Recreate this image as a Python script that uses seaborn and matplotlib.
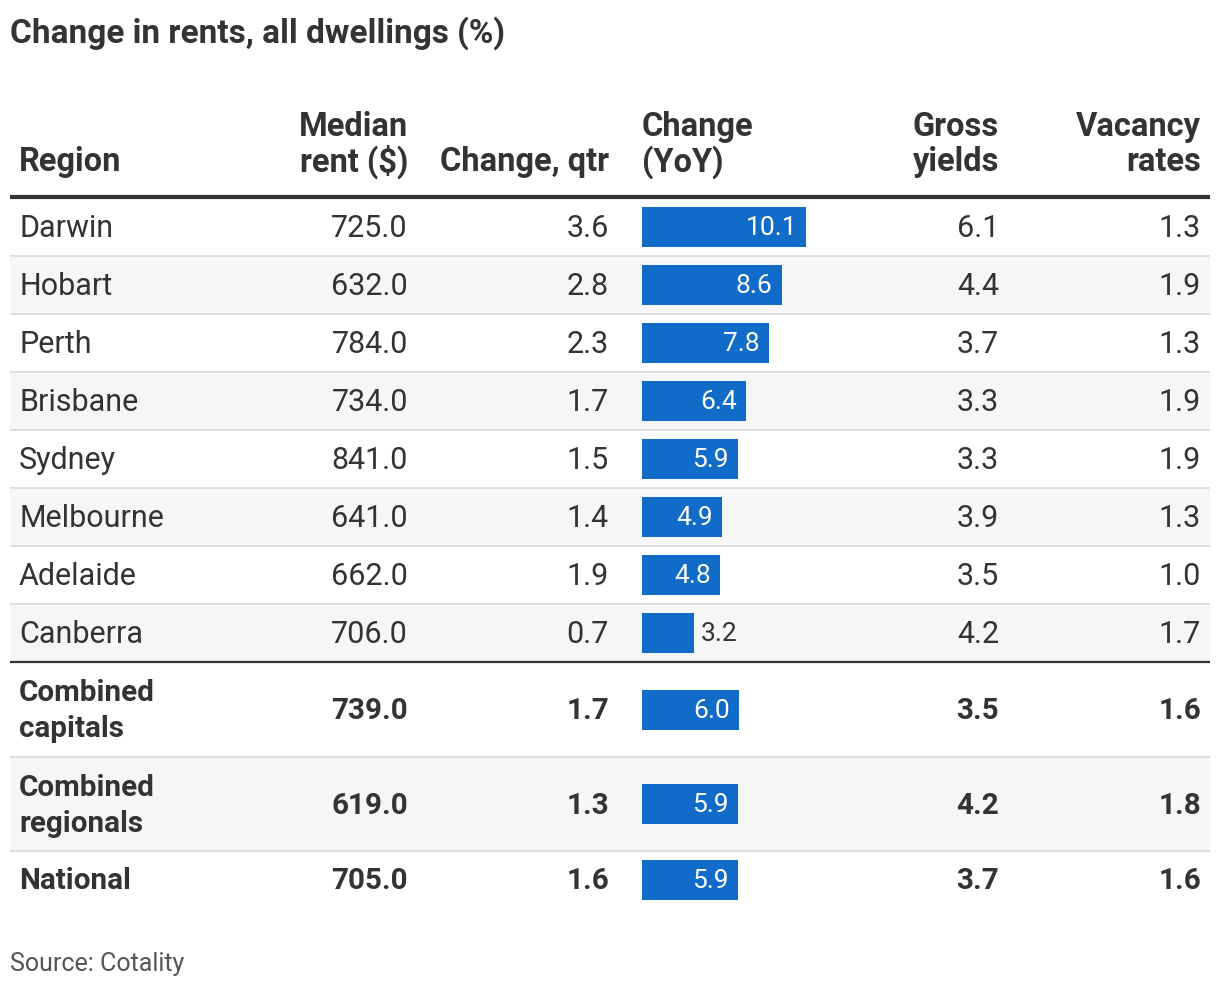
import matplotlib
matplotlib.use("Agg")
import matplotlib.pyplot as plt
import pandas as pd
import seaborn as sns

regions = ["Darwin", "Hobart", "Perth", "Brisbane", "Sydney", "Melbourne",
           "Adelaide", "Canberra", "Combined\ncapitals", "Combined\nregionals", "National"]
median_rent = [725.0, 632.0, 784.0, 734.0, 841.0, 641.0, 662.0, 706.0, 739.0, 619.0, 705.0]
change_qtr = [3.6, 2.8, 2.3, 1.7, 1.5, 1.4, 1.9, 0.7, 1.7, 1.3, 1.6]
change_yoy = [10.1, 8.6, 7.8, 6.4, 5.9, 4.9, 4.8, 3.2, 6.0, 5.9, 5.9]
gross_yields = [6.1, 4.4, 3.7, 3.3, 3.3, 3.9, 3.5, 4.2, 3.5, 4.2, 3.7]
vacancy = [1.3, 1.9, 1.3, 1.9, 1.9, 1.3, 1.0, 1.7, 1.6, 1.8, 1.6]
n_cities = 8

TEXT = "#333333"
BLUE = "#106bc9"
STRIPE = "#f6f6f6"
RULE = "#dcdcdc"

sns.set_theme(style="white")
plt.rcParams["font.family"] = ["Roboto", "DejaVu Sans"]

W, H = 1220, 990
fig = plt.figure(figsize=(W / 100, H / 100), dpi=100)
ax = fig.add_axes([0, 0, 1, 1])
ax.set_xlim(0, W)
ax.set_ylim(H, 0)
ax.axis("off")

body = 22
body_bold = 21.3
head = 23.5
# row layout (pixels)
heights = [58] * n_cities + [95, 94, 57]
tops = [198]
for h in heights[:-1]:
    tops.append(tops[-1] + h)
centers = [t + h / 2 for t, h in zip(tops, heights)]

# title / source
ax.text(10, 33, "Change in rents, all dwellings (%)", fontsize=24, fontweight="bold",
        color=TEXT, ha="left", va="center")
ax.text(10, 964, "Source: Cotality", fontsize=18, color="#555555", ha="left", va="center")

# header
hdr = dict(fontsize=head, fontweight="bold", color=TEXT, va="center")
ax.text(19, 162, "Region", ha="left", **hdr)
for x, l1, l2, ha in [(408, "Median", "rent ($)", "right"),
                      (642, "Change", "(YoY)", "left"),
                      (999, "Gross", "yields", "right"),
                      (1201, "Vacancy", "rates", "right")]:
    ax.text(x, 127, l1, ha=ha, **hdr)
    ax.text(x, 162, l2, ha=ha, **hdr)
ax.text(609, 162, "Change, qtr", ha="right", **hdr)
ax.plot([10, 1210], [197, 197], color=TEXT, lw=3, solid_capstyle="butt")

# rows
for i, (top, h, yc) in enumerate(zip(tops, heights, centers)):
    if i % 2 == 1:
        ax.add_patch(plt.Rectangle((10, top), 1200, h, color=STRIPE, lw=0, zorder=0))
    bottom = top + h
    if i == n_cities - 1:
        ax.plot([10, 1210], [bottom, bottom], color=TEXT, lw=1.6, solid_capstyle="butt")
    elif i < len(regions) - 1:
        ax.plot([10, 1210], [bottom, bottom], color=RULE, lw=1.3, solid_capstyle="butt")
    bold = i >= n_cities
    kw = dict(fontsize=body_bold if bold else body, fontweight="bold" if bold else "normal",
              color=TEXT, va="center")
    yt = yc + 1.5
    lines = regions[i].split("\n")
    if len(lines) == 2:
        ax.text(19, yt - 18, lines[0], ha="left", **kw)
        ax.text(19, yt + 18, lines[1], ha="left", **kw)
    else:
        ax.text(19, yt, lines[0], ha="left", **kw)
    ax.text(408, yt, f"{median_rent[i]:.1f}", ha="right", **kw)
    ax.text(609, yt, f"{change_qtr[i]:.1f}", ha="right", **kw)
    ax.text(999, yt, f"{gross_yields[i]:.1f}", ha="right", **kw)
    ax.text(1201, yt, f"{vacancy[i]:.1f}", ha="right", **kw)

# bar column
px_per_unit = 16.24
bax = fig.add_axes([642 / W, 0, px_per_unit * 11 / W, 1])
df = pd.DataFrame({"yoy": change_yoy, "ypos": centers})
sns.barplot(data=df, x="yoy", y="ypos", orient="y", native_scale=True, width=40 / 58,
            color=BLUE, saturation=1, errorbar=None, ax=bax, linewidth=0)
bax.set_xlim(0, 11)
bax.set_ylim(H, 0)
bax.axis("off")
bax.patch.set_alpha(0)
for v, yc in zip(change_yoy, centers):
    if v >= 4:
        bax.annotate(f"{v:.1f}", (v, yc + 1), xytext=(-9, 0), textcoords="offset pixels",
                     ha="right", va="center", color="white", fontsize=19)
    else:
        bax.annotate(f"{v:.1f}", (v, yc + 1), xytext=(7, 0), textcoords="offset pixels",
                     ha="left", va="center", color=TEXT, fontsize=19)

fig.savefig("out.png", dpi=100)
